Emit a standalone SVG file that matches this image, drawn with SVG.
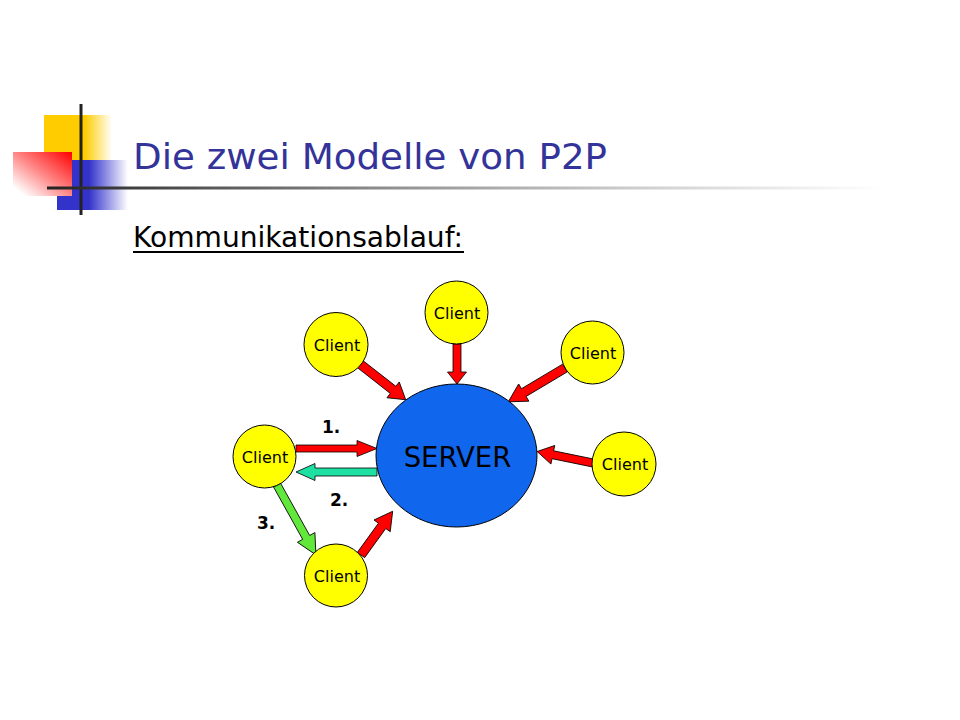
<svg xmlns="http://www.w3.org/2000/svg" width="960" height="720" viewBox="0 0 960 720">
<defs>
<linearGradient id="gYel" x1="0" y1="0" x2="1" y2="0"><stop offset="0" stop-color="#FFCC00"/><stop offset="0.6" stop-color="#FFCC00"/><stop offset="1" stop-color="#FFCC00" stop-opacity="0"/></linearGradient>
<linearGradient id="gBlu" x1="0" y1="0" x2="1" y2="0"><stop offset="0" stop-color="#3333CC"/><stop offset="0.45" stop-color="#3333CC"/><stop offset="1" stop-color="#3333CC" stop-opacity="0"/></linearGradient>
<linearGradient id="gRed" x1="1" y1="0" x2="0" y2="1"><stop offset="0" stop-color="#FF0000"/><stop offset="0.5" stop-color="#FF8888"/><stop offset="0.9" stop-color="#FFFFFF"/></linearGradient>
<linearGradient id="gLine" gradientUnits="userSpaceOnUse" x1="47" y1="0" x2="880" y2="0"><stop offset="0" stop-color="#222222"/><stop offset="0.12" stop-color="#444444"/><stop offset="0.45" stop-color="#999999"/><stop offset="0.7" stop-color="#cccccc"/><stop offset="1" stop-color="#ffffff"/></linearGradient>
<style>
.client{fill:#FFFF00;stroke:#000;stroke-width:1}
.ctext{font-family:"DejaVu Sans",Verdana,sans-serif;font-size:16px;fill:#000;text-anchor:middle}
.num{font-family:"DejaVu Sans",Verdana,sans-serif;font-size:17px;font-weight:bold;fill:#000}
.arr{stroke:#000;stroke-width:0.8;stroke-linejoin:miter}
.red{fill:#FF0000}
</style>
</defs>
<rect width="960" height="720" fill="#fff"/>
<g id="decoration">
<rect x="44" y="115" width="68" height="45" fill="url(#gYel)"/>
<rect x="57" y="160" width="71" height="50" fill="url(#gBlu)"/>
<rect x="13" y="152" width="59" height="44" fill="url(#gRed)"/>
<line x1="81" y1="104" x2="81" y2="215" stroke="#222" stroke-width="3"/>
<rect x="47" y="186.5" width="833" height="3" fill="url(#gLine)"/>
</g>
<g id="title">
<text x="133" y="169" font-family="DejaVu Sans,Verdana,sans-serif" font-size="35.5" fill="#333399" textLength="474" lengthAdjust="spacingAndGlyphs">Die zwei Modelle von P2P</text>
<text x="133" y="247" font-family="DejaVu Sans,Verdana,sans-serif" font-size="27.5" fill="#000" textLength="330" lengthAdjust="spacingAndGlyphs">Kommunikationsablauf:</text>
<line x1="133" y1="252" x2="464" y2="252" stroke="#000" stroke-width="2"/>
</g>
<g id="connectors">
<polygon class="arr red" transform="translate(296,448.5)" points="0,-3.5 61,-3.5 61,-8 81,0 61,8 61,3.5 0,3.5"/>
<polygon class="arr" fill="#1EE0A0" transform="translate(377,472) rotate(180)" points="0,-4 62,-4 62,-8.5 81,0 62,8.5 62,4 0,4"/>
<polygon class="arr" fill="#62E83A" transform="translate(277,485) rotate(60.9)" points="0,-4 60,-4 60,-10 80,0 60,10 60,4 0,4"/>
<polygon class="arr red" transform="translate(361,555) rotate(-54.1)" points="0,-4.5 36,-4.5 36,-10 54,0 36,10 36,4.5 0,4.5"/>
<polygon class="arr red" transform="translate(457,344) rotate(90)" points="0,-4 28,-4 28,-9.5 40,0 28,9.5 28,4 0,4"/>
<polygon class="arr red" transform="translate(360,364) rotate(38)" points="0,-4.5 42,-4.5 42,-10 58,0 42,10 42,4.5 0,4.5"/>
<polygon class="arr red" transform="translate(565,368) rotate(149.2)" points="0,-4.5 48,-4.5 48,-10 66,0 48,10 48,4.5 0,4.5"/>
<polygon class="arr red" transform="translate(593,463) rotate(191.6)" points="0,-4 41,-4 41,-9.5 57,0 41,9.5 41,4 0,4"/>
</g>
<g id="server">
<ellipse cx="456.5" cy="455.5" rx="80.5" ry="71.5" fill="#1166EE" stroke="#000" stroke-width="1"/>
<text x="457.5" y="467" font-family="DejaVu Sans,Verdana,sans-serif" font-size="27.5" fill="#000" text-anchor="middle">SERVER</text>
</g>
<g id="client-top"><circle class="client" cx="456.5" cy="312.5" r="31.5"/><text class="ctext" x="457" y="319">Client</text></g>
<g id="client-upper-left"><circle class="client" cx="336" cy="344.5" r="32"/><text class="ctext" x="337" y="351">Client</text></g>
<g id="client-upper-right"><circle class="client" cx="592.5" cy="352.5" r="31.5"/><text class="ctext" x="593" y="359">Client</text></g>
<g id="client-right"><circle class="client" cx="624" cy="464" r="32"/><text class="ctext" x="625" y="470">Client</text></g>
<g id="client-left"><circle class="client" cx="264.5" cy="456.5" r="31.5"/><text class="ctext" x="265" y="463">Client</text></g>
<g id="client-bottom"><circle class="client" cx="336" cy="575.5" r="31.5"/><text class="ctext" x="337" y="582">Client</text></g>
<g id="labels">
<text class="num" x="322" y="433">1.</text>
<text class="num" x="330" y="506">2.</text>
<text class="num" x="257" y="529">3.</text>
</g>
</svg>
